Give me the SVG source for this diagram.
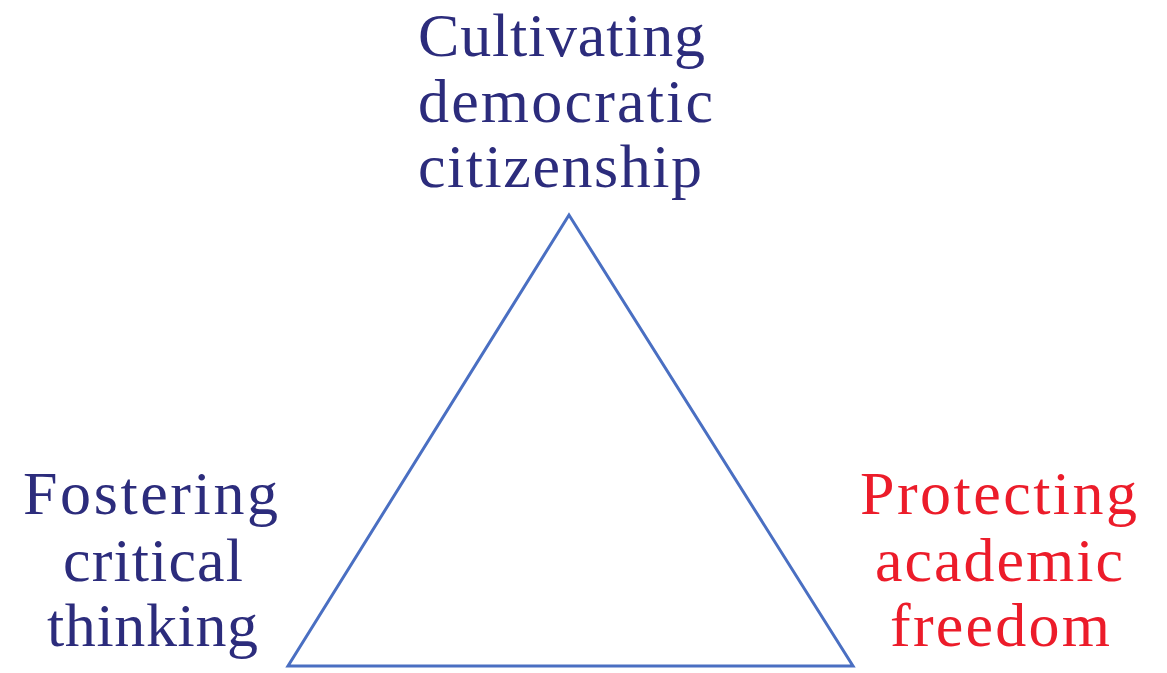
<svg xmlns="http://www.w3.org/2000/svg" width="1167" height="673" viewBox="0 0 1167 673">
<style>
.t{font-family:"Liberation Serif","Times New Roman",serif;font-size:62px;}
.navy{fill:#2c2c7c;}
.red{fill:#ec1c2a;}
.tri{fill:none;stroke:#4a6fc2;stroke-width:3;stroke-linejoin:miter;}
</style>
<rect width="1167" height="673" fill="#ffffff"/>
<g id="connectors">
<polygon class="tri" points="569,215 288,666 853,666"/>
</g>
<g id="node-top">
<text class="t navy" x="418" y="56" textLength="287">Cultivating</text>
<text class="t navy" x="418" y="122" textLength="295">democratic</text>
<text class="t navy" x="418" y="187" textLength="284">citizenship</text>
</g>
<g id="node-left">
<text class="t navy" x="23" y="514" textLength="255">Fostering</text>
<text class="t navy" x="63" y="581" textLength="180">critical</text>
<text class="t navy" x="47" y="646" textLength="211">thinking</text>
</g>
<g id="node-right">
<text class="t red" x="860" y="514" textLength="277">Protecting</text>
<text class="t red" x="875" y="581" textLength="248">academic</text>
<text class="t red" x="890" y="646" textLength="220">freedom</text>
</g>
</svg>
